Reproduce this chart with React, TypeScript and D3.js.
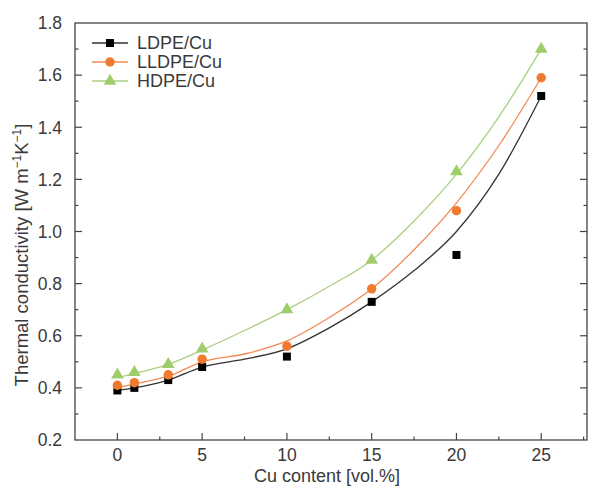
import * as d3 from "d3";
import { useEffect, useRef } from "react";

// measured points
const cuContent = [0, 1, 3, 5, 10, 15, 20, 25];
const ldpe = [0.39, 0.4, 0.43, 0.48, 0.52, 0.73, 0.91, 1.52];
const lldpe = [0.41, 0.42, 0.45, 0.51, 0.56, 0.78, 1.08, 1.59];
const hdpe = [0.45, 0.46, 0.49, 0.55, 0.7, 0.89, 1.23, 1.7];

// fitted curves
const fitX = [0, 1, 3, 5, 7.5, 10, 12.5, 15, 17.5, 20, 22.5, 25];
const ldpeFit = [0.39, 0.4, 0.43, 0.48, 0.51, 0.55, 0.63, 0.73, 0.85, 1.0, 1.22, 1.52];
const lldpeFit = [0.4, 0.415, 0.445, 0.5, 0.53, 0.58, 0.67, 0.78, 0.93, 1.11, 1.33, 1.59];
const hdpeFit = [0.44, 0.455, 0.49, 0.545, 0.62, 0.7, 0.79, 0.89, 1.04, 1.22, 1.44, 1.7];

const xTicks = [0, 5, 10, 15, 20, 25];
const yTicks = [0.2, 0.4, 0.6, 0.8, 1.0, 1.2, 1.4, 1.6, 1.8];

const W = 590;
const H = 487;
const FONT = "'Liberation Sans', Arial, Helvetica, sans-serif";
const TXT = "#3a3a3a";

export default function App() {
  const ref = useRef<SVGSVGElement | null>(null);

  useEffect(() => {
    const svg = d3.select(ref.current);
    svg.selectAll("*").remove();

    const left = 75;
    const right = 587;
    const top = 23;
    const bottom = 440;

    const x = d3.scaleLinear().domain([-2.5, 27.7]).range([left, right]);
    const y = d3.scaleLinear().domain([0.2, 1.8]).range([bottom, top]);

    const series = [
      { name: "LDPE/Cu", pts: ldpe, fit: ldpeFit, marker: "square", fill: "#000000", line: "#333333" },
      { name: "LLDPE/Cu", pts: lldpe, fit: lldpeFit, marker: "circle", fill: "#f07b2e", line: "#f28a55" },
      { name: "HDPE/Cu", pts: hdpe, fit: hdpeFit, marker: "triangle", fill: "#9fcd6c", line: "#a8d080" },
    ];

    const markerPath = (kind: string) => {
      if (kind === "square") return d3.symbol(d3.symbolSquare, 64)();
      if (kind === "circle") return d3.symbol(d3.symbolCircle, 70)();
      return d3.symbol(d3.symbolTriangle, 70)();
    };

    // frame
    svg
      .append("rect")
      .attr("x", left)
      .attr("y", top)
      .attr("width", right - left)
      .attr("height", bottom - top)
      .attr("fill", "none")
      .attr("stroke", "#444")
      .attr("stroke-width", 1.3);

    const tickG = svg.append("g").attr("stroke", "#444").attr("stroke-width", 1.2);

    // x ticks (inward), minor every 2.5
    d3.range(-2.5, 27.6, 2.5).forEach((v) => {
      const major = Math.abs(v % 5) < 1e-9;
      if (v <= -2.5 + 1e-9) return;
      tickG
        .append("line")
        .attr("x1", x(v))
        .attr("x2", x(v))
        .attr("y1", bottom)
        .attr("y2", bottom - (major ? 7 : 3.5));
    });

    // y ticks on left and right, minor every 0.1
    d3.range(3, 18).forEach((i) => {
      const v = i / 10;
      const major = i % 2 === 0;
      const len = major ? 7 : 3.5;
      tickG.append("line").attr("x1", left).attr("x2", left + len).attr("y1", y(v)).attr("y2", y(v));
      tickG.append("line").attr("x1", right).attr("x2", right - len).attr("y1", y(v)).attr("y2", y(v));
    });

    // tick labels
    svg
      .append("g")
      .selectAll("text")
      .data(xTicks)
      .enter()
      .append("text")
      .attr("x", (d) => x(d))
      .attr("y", 461)
      .attr("text-anchor", "middle")
      .attr("font-family", FONT)
      .attr("font-size", 17.5)
      .attr("fill", TXT)
      .text((d) => String(d));

    svg
      .append("g")
      .selectAll("text")
      .data(yTicks)
      .enter()
      .append("text")
      .attr("x", 62)
      .attr("y", (d) => y(d))
      .attr("dy", "0.36em")
      .attr("text-anchor", "end")
      .attr("font-family", FONT)
      .attr("font-size", 17.5)
      .attr("fill", TXT)
      .text((d) => d.toFixed(1));

    // axis titles
    svg
      .append("text")
      .attr("x", 327)
      .attr("y", 482)
      .attr("text-anchor", "middle")
      .attr("font-family", FONT)
      .attr("font-size", 18)
      .attr("fill", TXT)
      .text("Cu content [vol.%]");

    const yt = svg
      .append("text")
      .attr("transform", "translate(28,255) rotate(-90)")
      .attr("text-anchor", "middle")
      .attr("font-family", FONT)
      .attr("font-size", 18.5)
      .attr("fill", TXT);
    yt.append("tspan").text("Thermal conductivity [W m");
    yt.append("tspan").attr("dy", -7).attr("font-size", 12).text("\u22121");
    yt.append("tspan").attr("dy", 7).text("K");
    yt.append("tspan").attr("dy", -7).attr("font-size", 12).text("\u22121");
    yt.append("tspan").attr("dy", 7).text("]");

    // curves
    const line = d3
      .line<number>()
      .x((_, i) => x(fitX[i]))
      .y((d) => y(d))
      .curve(d3.curveMonotoneX);

    series.forEach((s) => {
      svg
        .append("path")
        .attr("d", line(s.fit))
        .attr("fill", "none")
        .attr("stroke", s.line)
        .attr("stroke-width", 1.3);
    });

    series.forEach((s) => {
      svg
        .append("g")
        .selectAll("path")
        .data(s.pts)
        .enter()
        .append("path")
        .attr("d", markerPath(s.marker))
        .attr("transform", (d, i) => `translate(${x(cuContent[i])},${y(d)})`)
        .attr("fill", s.fill);
    });

    // legend
    const lg = svg.append("g");
    series.forEach((s, i) => {
      const cy = 43 + i * 19;
      lg.append("line")
        .attr("x1", 92)
        .attr("x2", 128)
        .attr("y1", cy)
        .attr("y2", cy)
        .attr("stroke", s.line)
        .attr("stroke-width", 1.3);
      lg.append("path")
        .attr("d", markerPath(s.marker))
        .attr("transform", `translate(110,${cy})`)
        .attr("fill", s.fill);
      lg.append("text")
        .attr("x", 137)
        .attr("y", cy)
        .attr("dy", "0.36em")
        .attr("font-family", FONT)
        .attr("font-size", 18)
        .attr("fill", TXT)
        .text(s.name);
    });
  }, []);

  return (
    <svg
      ref={ref}
      width={W}
      height={H}
      viewBox={`0 0 ${W} ${H}`}
      style={{ position: "absolute", left: 0, top: 0, background: "#fff" }}
    />
  );
}
